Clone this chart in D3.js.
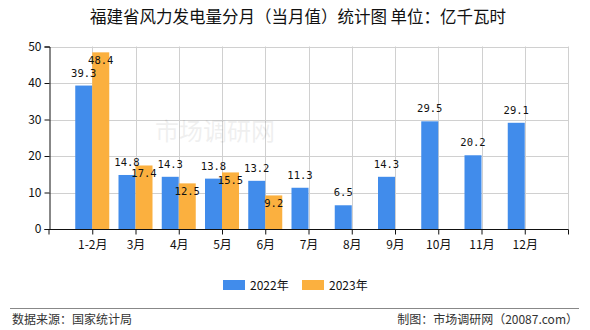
<!DOCTYPE html>
<html>
<head>
<meta charset="utf-8">
<script src="https://cdn.jsdelivr.net/npm/d3@7/dist/d3.min.js"></script>
<style>
  html, body { margin: 0; padding: 0; background: #fff; }
  svg { display: block; }
  text { font-family: "Noto Sans CJK SC", "DejaVu Sans", sans-serif; }
  text.val { font-family: "DejaVu Sans Mono", monospace; }
</style>
</head>
<body>
<svg id="chart" width="590" height="330"></svg>
<script>
// Monthly wind power generation, Fujian (100 million kWh)
const categories = ["1-2月", "3月", "4月", "5月", "6月", "7月", "8月", "9月", "10月", "11月", "12月"];
const values2022 = [39.3, 14.8, 14.3, 13.8, 13.2, 11.3, 6.5, 14.3, 29.5, 20.2, 29.1];
const values2023 = [48.4, 17.4, 12.5, 15.5, 9.2];
const seriesNames = ["2022年", "2023年"];
const yTicks = [0, 10, 20, 30, 40, 50];

const colors = ["#418ceb", "#fbb03f"];
const svg = d3.select("#chart");
const plotLeft = 49, plotRight = 568, plotTop = 46.5, plotBottom = 229;
const barW = 17;

const x = d3.scalePoint().domain(categories).range([plotLeft, plotRight]).padding(1);
const y = d3.scaleLinear().domain([0, 50]).range([plotBottom, plotTop]);

// Title
svg.append("text")
  .attr("x", 298).attr("y", 23)
  .attr("text-anchor", "middle")
  .attr("font-size", 16.5)
  .attr("fill", "#111")
  .text("福建省风力发电量分月（当月值）统计图 单位：亿千瓦时");

// Grid
const grid = svg.append("g").attr("stroke", "#d0d0d0").attr("stroke-width", 1);
yTicks.filter(t => t > 0).forEach(t => {
  grid.append("line").attr("x1", plotLeft).attr("x2", plotRight)
    .attr("y1", Math.round(y(t)) + 0.5).attr("y2", Math.round(y(t)) + 0.5);
});
categories.forEach(c => {
  grid.append("line").attr("x1", Math.round(x(c)) + 0.5).attr("x2", Math.round(x(c)) + 0.5)
    .attr("y1", plotTop).attr("y2", plotBottom);
});
grid.append("line").attr("x1", plotRight + 0.5).attr("x2", plotRight + 0.5).attr("y1", plotTop).attr("y2", plotBottom);

// Faint watermark
svg.append("text")
  .attr("x", 155).attr("y", 140)
  .attr("font-size", 24)
  .attr("fill", "#000").attr("opacity", 0.06)
  .text("市场调研网");

// Bars
const bars = svg.append("g");
values2022.forEach((v, i) => {
  const cx = x(categories[i]);
  bars.append("rect")
    .attr("x", cx - barW).attr("y", y(v))
    .attr("width", barW).attr("height", plotBottom - y(v))
    .attr("fill", colors[0]);
});
values2023.forEach((v, i) => {
  const cx = x(categories[i]);
  bars.append("rect")
    .attr("x", cx).attr("y", y(v))
    .attr("width", barW).attr("height", plotBottom - y(v))
    .attr("fill", colors[1]);
});

// Value labels
const labels = svg.append("g").attr("font-size", 10.5).attr("fill", "#111")
  .attr("text-anchor", "middle");
values2022.forEach((v, i) => {
  labels.append("text").attr("class", "val")
    .attr("x", x(categories[i]) - barW / 2)
    .attr("y", y(v) - 9)
    .text(v.toFixed(1));
});
values2023.forEach((v, i) => {
  labels.append("text").attr("class", "val")
    .attr("x", x(categories[i]) + barW / 2)
    .attr("y", y(v) + 12)
    .text(v.toFixed(1));
});

// Axes
const yAxis = d3.axisLeft(y).tickValues(yTicks).tickSize(5).tickPadding(3).tickFormat(d3.format("d"));
svg.append("g").attr("transform", `translate(${plotLeft + 0.5},0)`).call(yAxis)
  .call(g => g.selectAll("text").attr("font-size", 12).attr("fill", "#111"))
  .call(g => g.selectAll("line,path").attr("stroke", "#111"));

const xAxis = d3.axisBottom(x).tickSize(5).tickPadding(6).tickSizeOuter(5);
const xg = svg.append("g").attr("transform", `translate(0,${plotBottom + 0.5})`).call(xAxis);
xg.select(".domain").attr("d", `M${plotLeft},5V0H${plotRight + 0.5}V5`);
xg.selectAll("line,path").attr("stroke", "#111");
xg.selectAll("text").attr("font-size", 12).attr("fill", "#111");

// Legend
const legend = svg.append("g").attr("font-size", 12).attr("fill", "#111");
[[223, 0], [302, 1]].forEach(([lx, k]) => {
  legend.append("rect").attr("x", lx).attr("y", 280).attr("width", 22).attr("height", 10).attr("fill", colors[k]);
  legend.append("text").attr("x", lx + 27).attr("y", 289.5).text(seriesNames[k]);
});

// Footer
svg.append("line").attr("x1", 10).attr("x2", 579).attr("y1", 308.5).attr("y2", 308.5)
  .attr("stroke", "#888").attr("stroke-width", 1);
svg.append("text").attr("x", 12).attr("y", 324).attr("font-size", 12).attr("fill", "#333")
  .text("数据来源：国家统计局");
svg.append("text").attr("x", 578).attr("y", 324).attr("font-size", 12).attr("fill", "#333")
  .attr("text-anchor", "end")
  .text("制图：市场调研网（20087.com）");
</script>
</body>
</html>
